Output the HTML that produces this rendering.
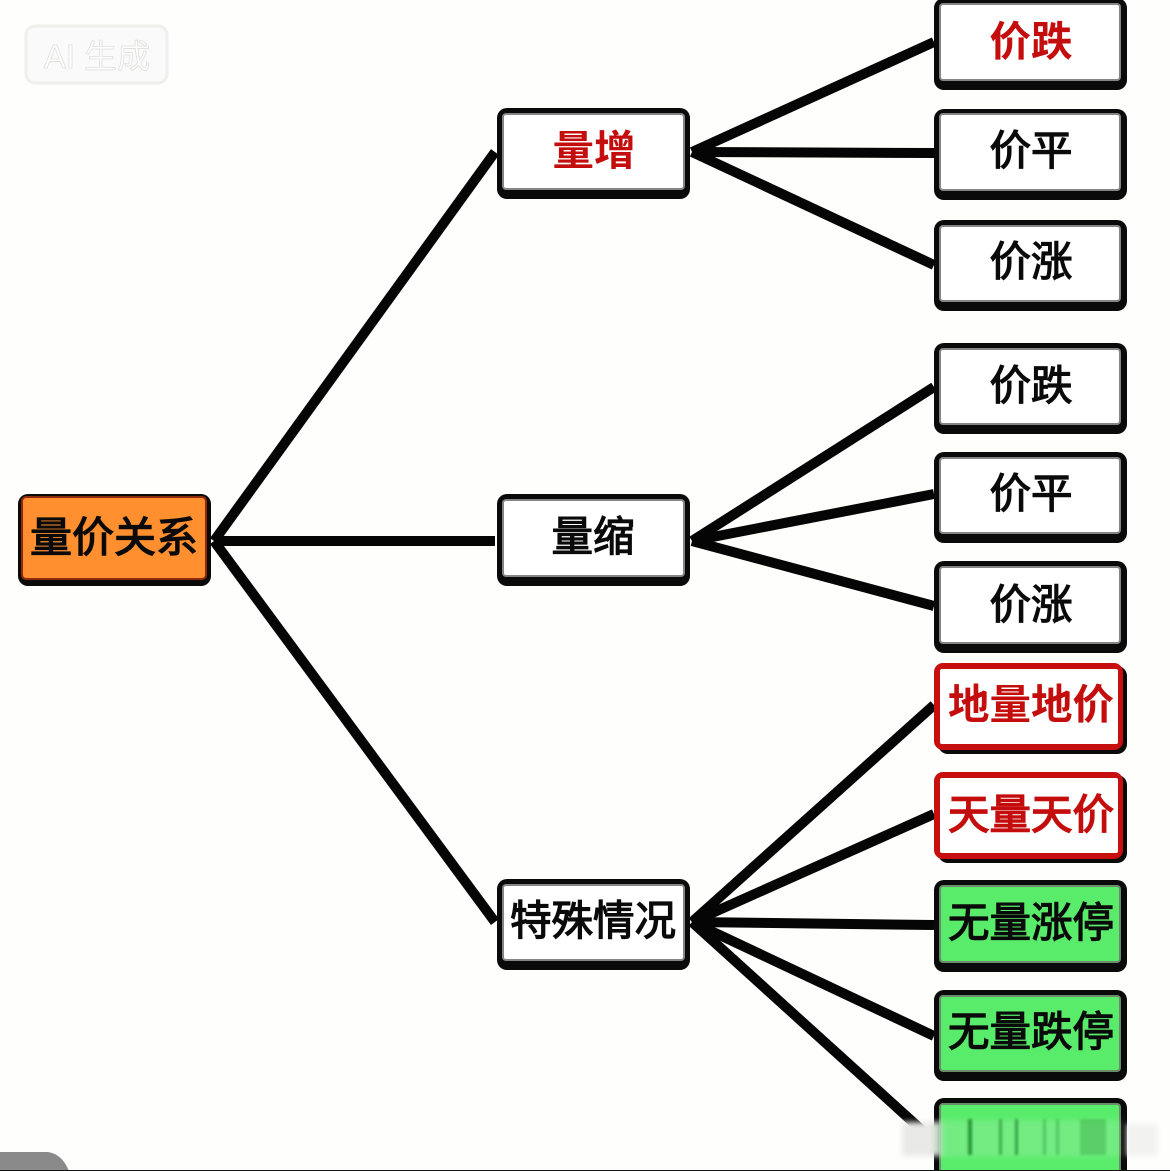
<!DOCTYPE html>
<html lang="zh">
<head>
<meta charset="utf-8">
<title>量价关系</title>
<style>
html,body{margin:0;padding:0;background:#fefefc;}
body{width:1170px;height:1171px;overflow:hidden;position:relative;}
svg{position:absolute;left:0;top:0;display:block;}
text{font-family:"Liberation Sans","Noto Sans CJK SC",sans-serif;text-anchor:middle;}
.t{font-size:41.5px;font-weight:400;fill:#0a0a0a;stroke:#0a0a0a;stroke-width:1.3px;}
.r{font-size:41.5px;font-weight:700;fill:#c40d0d;}
.w{font-size:41.5px;font-weight:400;fill:#c40d0d;stroke:#c40d0d;stroke-width:1.5px;}
.o{fill:#0a0a0a;}
.i{fill:#fff;stroke:#858585;stroke-width:2;}
.g{fill:#58ec6a;stroke:#6a8a6a;stroke-width:2;}
</style>
</head>
<body>
<svg width="1170" height="1171" viewBox="0 0 1170 1171" xmlns="http://www.w3.org/2000/svg">
<defs>
<filter id="b" x="-30%" y="-50%" width="160%" height="200%"><feGaussianBlur stdDeviation="3"/></filter>
<filter id="s" x="-100%" y="-20%" width="300%" height="140%"><feGaussianBlur stdDeviation="1.2"/></filter>
</defs>
<rect width="1170" height="1171" fill="#fefefc"/>

<!-- AI badge -->
<rect x="26" y="26" width="141" height="57" rx="9" fill="#fafafa" stroke="#efefed" stroke-width="3"/>
<text x="97" y="68" style="font-size:33px;fill:#fff;stroke:#dededc;stroke-width:.8px">AI 生成</text>

<!-- connectors -->
<g stroke="#050505" stroke-width="10" fill="none" stroke-linecap="butt">
<line x1="214" y1="541" x2="495" y2="152"/>
<line x1="214" y1="541" x2="495" y2="541"/>
<line x1="214" y1="541" x2="495" y2="922"/>
<line x1="692" y1="152" x2="934" y2="42"/>
<line x1="692" y1="152" x2="934" y2="153"/>
<line x1="692" y1="152" x2="934" y2="265"/>
<line x1="692" y1="541" x2="934" y2="387"/>
<line x1="692" y1="541" x2="934" y2="494"/>
<line x1="692" y1="541" x2="934" y2="606"/>
<line x1="692" y1="922" x2="934" y2="705"/>
<line x1="692" y1="922" x2="934" y2="814"/>
<line x1="692" y1="922" x2="934" y2="925"/>
<line x1="692" y1="922" x2="934" y2="1036"/>
<line x1="692" y1="922" x2="925" y2="1133"/>
</g>

<!-- root -->
<rect class="o" x="18" y="494" width="193" height="92" rx="10"/>
<rect x="22" y="497" width="184" height="82" rx="4" fill="#ff8f2f" stroke="#8e2a0a" stroke-width="2"/>
<text class="t" x="114" y="552" style="font-size:42px">量价关系</text>

<!-- middle -->
<rect class="o" x="497" y="108" width="193" height="91" rx="10"/>
<rect class="i" x="503" y="114" width="181" height="75" rx="3"/>
<text class="r" x="594" y="165">量增</text>

<rect class="o" x="497" y="494" width="193" height="92" rx="10"/>
<rect class="i" x="503" y="500" width="181" height="76" rx="3"/>
<text class="t" x="593" y="551">量缩</text>

<rect class="o" x="497" y="879" width="193" height="91" rx="10"/>
<rect class="i" x="503" y="885" width="181" height="75" rx="3"/>
<text class="t" x="593" y="935">特殊情况</text>

<!-- right column -->
<rect class="o" x="934" y="-2" width="193" height="92" rx="10"/>
<rect class="i" x="940" y="4" width="180" height="76" rx="3"/>
<text class="r" x="1031" y="56">价跌</text>

<rect class="o" x="934" y="109" width="193" height="91" rx="10"/>
<rect class="i" x="940" y="114" width="180" height="76" rx="3"/>
<text class="t" x="1031" y="165">价平</text>

<rect class="o" x="934" y="220" width="193" height="91" rx="10"/>
<rect class="i" x="940" y="226" width="180" height="75" rx="3"/>
<text class="t" x="1031" y="276">价涨</text>

<rect class="o" x="934" y="343" width="193" height="91" rx="10"/>
<rect class="i" x="940" y="349" width="180" height="75" rx="3"/>
<text class="t" x="1031" y="400">价跌</text>

<rect class="o" x="934" y="452" width="193" height="91" rx="10"/>
<rect class="i" x="940" y="458" width="180" height="75" rx="3"/>
<text class="t" x="1031" y="508">价平</text>

<rect class="o" x="934" y="561" width="193" height="92" rx="10"/>
<rect class="i" x="940" y="567" width="180" height="76" rx="3"/>
<text class="t" x="1031" y="619">价涨</text>

<rect class="o" x="938" y="666" width="189" height="88" rx="10"/>
<rect x="934" y="663" width="189" height="87" rx="9" fill="#c80f0f"/>
<rect x="940" y="669" width="178" height="75" rx="2" fill="#fff"/>
<text class="r" x="1031" y="719">地量地价</text>

<rect class="o" x="938" y="775" width="189" height="88" rx="10"/>
<rect x="934" y="772" width="189" height="87" rx="9" fill="#c80f0f"/>
<rect x="940" y="778" width="178" height="75" rx="2" fill="#fff"/>
<text class="w" x="1031" y="829">天量天价</text>

<rect class="o" x="934" y="880" width="193" height="92" rx="10"/>
<rect class="g" x="940" y="886" width="180" height="76" rx="3"/>
<text class="t" x="1031" y="937">无量涨停</text>

<rect class="o" x="934" y="990" width="193" height="91" rx="10"/>
<rect class="g" x="940" y="996" width="180" height="75" rx="3"/>
<text class="t" x="1031" y="1046">无量跌停</text>

<rect class="o" x="934" y="1098" width="193" height="85" rx="10"/>
<rect class="g" x="940" y="1104" width="180" height="80" rx="3"/>

<!-- bottom-right blurred watermark -->
<g filter="url(#b)">
<rect x="902" y="1122" width="32" height="34" fill="#e9e9e7"/>
<rect x="934" y="1122" width="8" height="34" fill="#c8d8c8"/>
<rect x="1127" y="1124" width="30" height="32" fill="#f2f2f0"/>
</g>
<rect x="940" y="1120" width="180" height="37" fill="#a8eeb0" opacity=".35" filter="url(#b)"/>
<g filter="url(#s)">
<rect x="968" y="1119" width="4" height="36" fill="#127a22" opacity=".75"/>
<rect x="999" y="1119" width="3" height="36" fill="#127a22" opacity=".55"/>
<rect x="1015" y="1119" width="3" height="36" fill="#127a22" opacity=".65"/>
<rect x="1043" y="1119" width="3" height="36" fill="#2a9a3a" opacity=".45"/>
<rect x="1056" y="1119" width="3" height="36" fill="#2a9a3a" opacity=".45"/>
<rect x="1080" y="1119" width="26" height="36" fill="#2f9f40" opacity=".4"/>
</g>

<!-- bottom-left grey corner and baseline -->
<path d="M0 1152H48Q62 1154 69 1171H0Z" fill="#8a8a8a"/>
<rect x="0" y="1170" width="1170" height="1" fill="#111"/>
</svg>
</body>
</html>
